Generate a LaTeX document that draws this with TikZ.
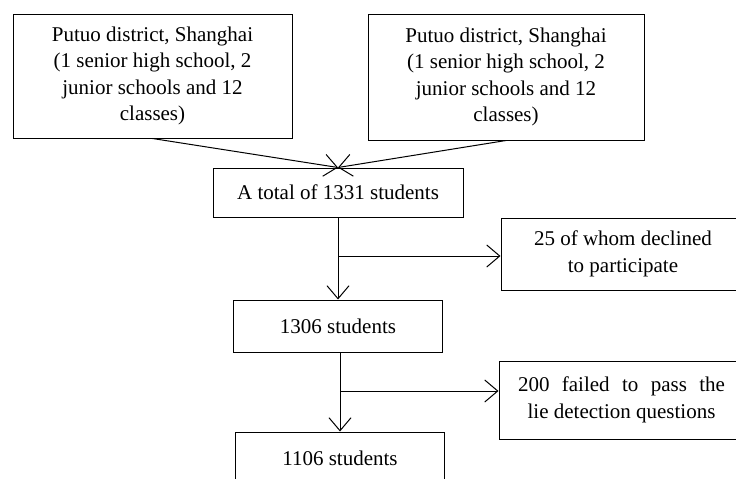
\documentclass[tikz,border=0pt]{standalone}
\usepackage{fontspec}
\setmainfont{Liberation Serif}
\usetikzlibrary{arrows.meta}

\begin{document}
\begin{tikzpicture}[x=1pt,y=-1pt,
  box/.style={draw,line width=1pt,inner sep=0pt,align=center,
              font=\fontsize{21}{26.5}\selectfont},
  link/.style={line width=1pt},
  >={Straight Barb[length=13pt,width=22pt,line width=1pt]}]
\useasboundingbox (0,0) rectangle (736,479);
% sources
\node[box,minimum width=279pt,minimum height=124pt] (dl) at (152.5,76)
  {Putuo district, Shanghai\\(1 senior high school, 2\\junior schools and 12\\classes)};
\node[box,minimum width=276pt,minimum height=126pt] (dr) at (506,77)
  {Putuo district, Shanghai\\(1 senior high school, 2\\junior schools and 12\\classes)};
% main column
\node[box,minimum width=250pt,minimum height=49pt] (total) at (338,192.5) {A total of 1331 students};
\node[box,minimum width=209pt,minimum height=52pt] (s1306) at (338,326) {1306 students};
\node[box,minimum width=209pt,minimum height=52pt] (s1106) at (340,458) {1106 students};
% exclusions
\node[box,minimum width=244pt,minimum height=72pt] (decl) at (623,254) {25 of whom declined\\to participate};
\node[box,minimum width=245pt,minimum height=78pt] (fail) at (621.5,400)
  {\makebox[207pt][s]{200 failed to pass the}\\lie detection questions};
\coordinate (b1) at (338,256);
\coordinate (b2) at (340,391);

\draw[link,->] (dl.south) -- (total.north);
\draw[link,->] (dr.south) -- (total.north);
\draw[link,->] (total.south) -- (s1306.north);
\draw[link,->] (b1) -- (b1 -| decl.west);
\draw[link,->] (s1306.south -| s1106.north) -- (s1106.north);
\draw[link,->] (b2) -- (b2 -| fail.west);
\end{tikzpicture}
\end{document}
